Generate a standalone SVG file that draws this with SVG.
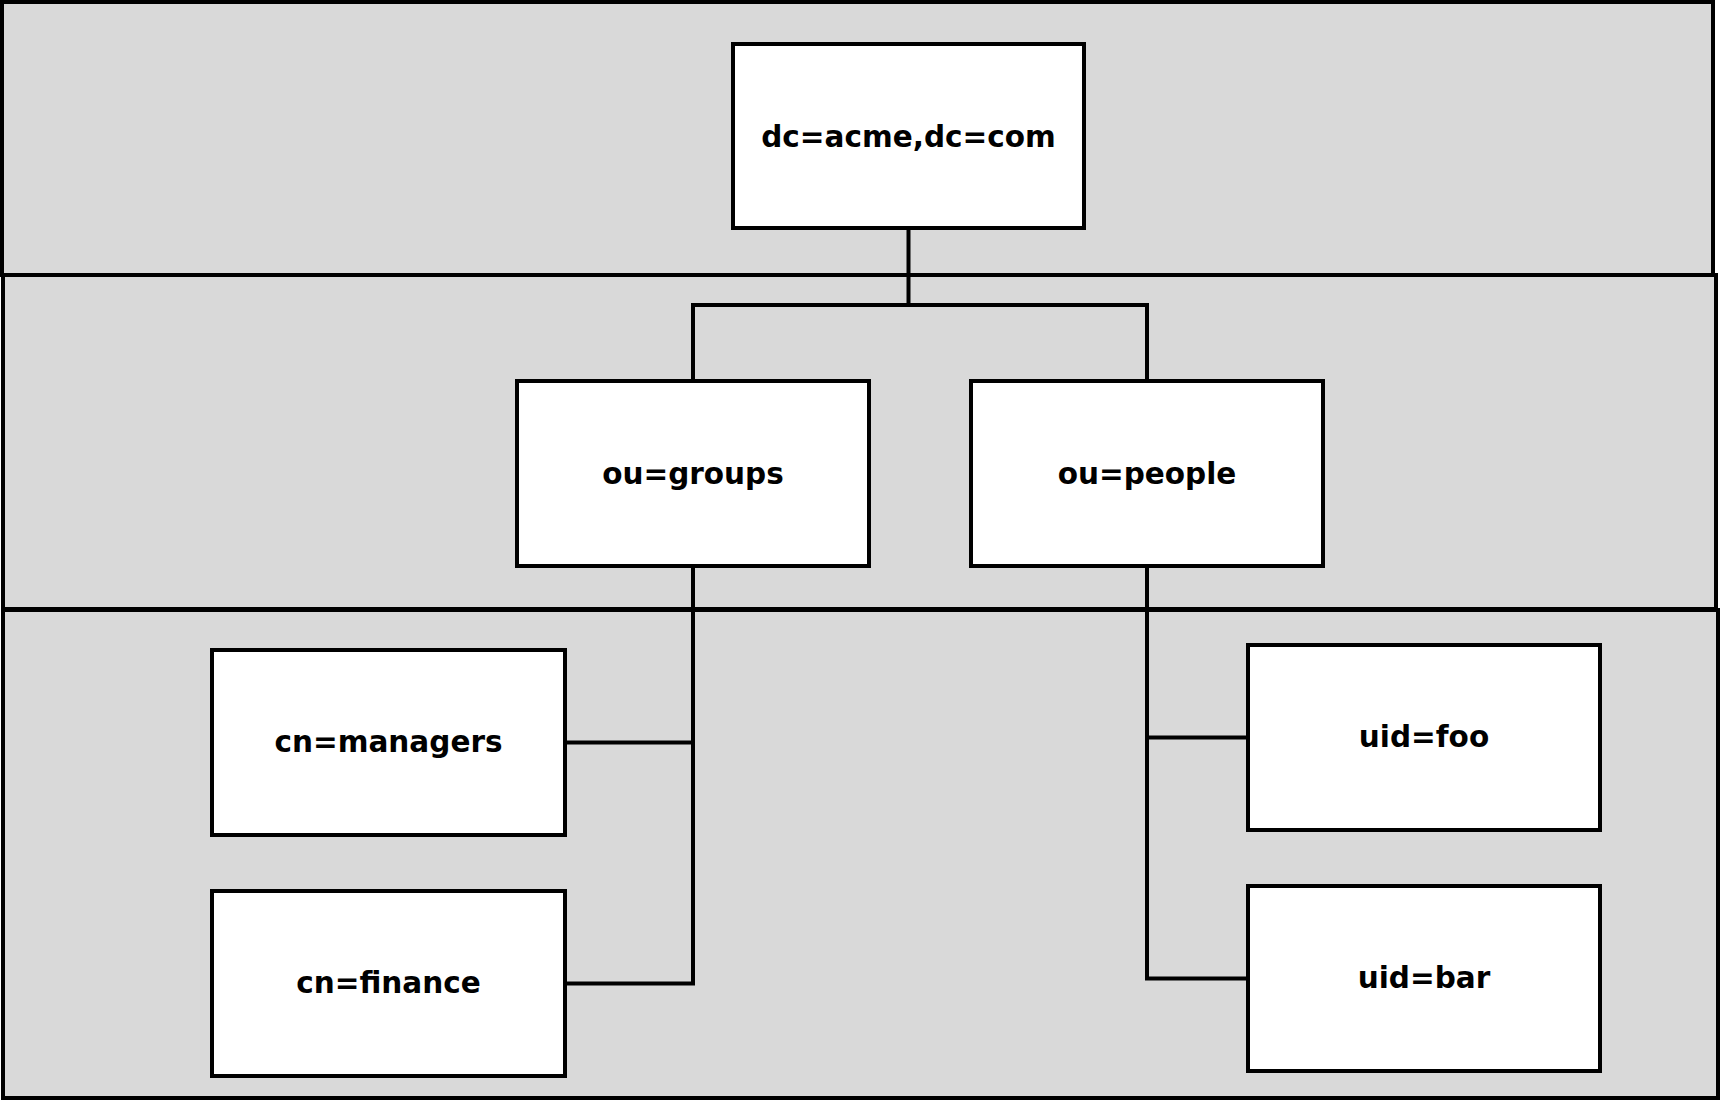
<svg xmlns="http://www.w3.org/2000/svg" width="1725" height="1106" viewBox="0 0 1725 1106">
<style>
.band{fill:#d9d9d9;stroke:#000;stroke-width:4}
.box{fill:#fff;stroke:#000;stroke-width:4}
.lbl{font-family:"DejaVu Sans",Verdana,sans-serif;font-weight:bold;font-size:29.5px;fill:#000;text-anchor:middle}
.conn{fill:none;stroke:#000;stroke-width:4;stroke-linejoin:miter;stroke-linecap:butt}
</style>
<rect width="1725" height="1106" fill="#ffffff"/>
<g id="bands">
<rect class="band" x="2" y="2" width="1711" height="273"/>
<rect class="band" x="3" y="275" width="1713" height="334"/>
<rect class="band" x="3" y="610" width="1715" height="488"/>
</g>
<g id="connectors">
<path class="conn" d="M908.5,228 V305"/>
<path class="conn" d="M693,381 V305 H1147 V381"/>
<path class="conn" d="M693,566 V983.5 H565"/>
<path class="conn" d="M565,742.5 H693"/>
<path class="conn" d="M1147,566 V978.5 H1248"/>
<path class="conn" d="M1147,737.5 H1248"/>
</g>
<g id="node-root">
<rect class="box" x="733" y="44" width="351" height="184"/>
<text class="lbl" x="908.5" y="147">dc=acme,dc=com</text>
</g>
<g id="node-groups">
<rect class="box" x="517" y="381" width="352" height="185"/>
<text class="lbl" x="693" y="483.5">ou=groups</text>
</g>
<g id="node-people">
<rect class="box" x="971" y="381" width="352" height="185"/>
<text class="lbl" x="1147" y="483.5">ou=people</text>
</g>
<g id="node-managers">
<rect class="box" x="212" y="650" width="353" height="185"/>
<text class="lbl" x="388.5" y="752">cn=managers</text>
</g>
<g id="node-finance">
<rect class="box" x="212" y="891" width="353" height="185"/>
<text class="lbl" x="388.5" y="993">cn=finance</text>
</g>
<g id="node-foo">
<rect class="box" x="1248" y="645" width="352" height="185"/>
<text class="lbl" x="1424" y="747">uid=foo</text>
</g>
<g id="node-bar">
<rect class="box" x="1248" y="886" width="352" height="185"/>
<text class="lbl" x="1424" y="988">uid=bar</text>
</g>
</svg>
